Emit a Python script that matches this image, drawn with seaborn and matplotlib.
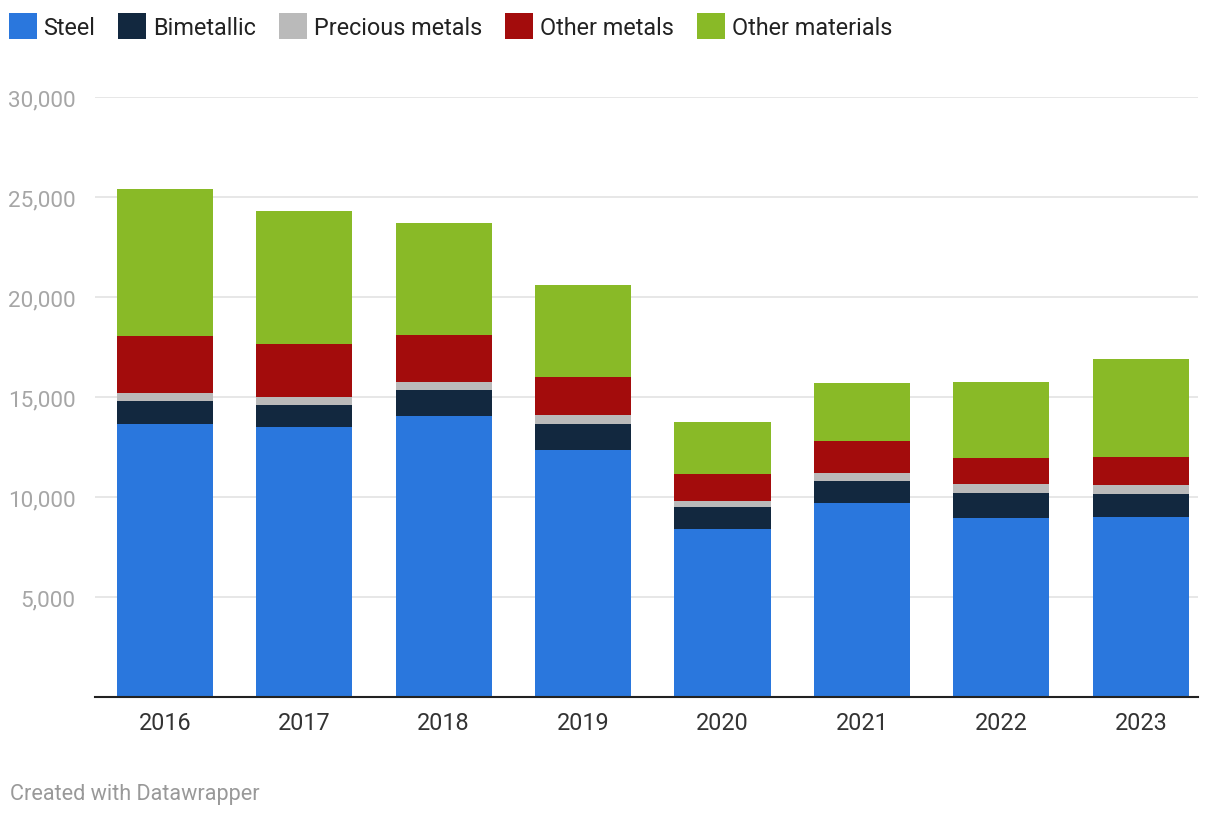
import numpy as np
import pandas as pd
import seaborn as sns
import matplotlib.pyplot as plt
from matplotlib.patches import Patch
from matplotlib.ticker import FuncFormatter

years = ["2016", "2017", "2018", "2019", "2020", "2021", "2022", "2023"]
steel = [13650, 13500, 14050, 12350, 8400, 9700, 8950, 9000]
bimetallic = [1150, 1100, 1300, 1300, 1100, 1100, 1250, 1150]
precious_metals = [400, 400, 400, 450, 300, 400, 450, 450]
other_metals = [2850, 2650, 2350, 1900, 1350, 1600, 1300, 1400]
other_materials = [7350, 6650, 5600, 4600, 2600, 2900, 3800, 4900]

series_names = ["Steel", "Bimetallic", "Precious metals", "Other metals", "Other materials"]
series_values = [steel, bimetallic, precious_metals, other_metals, other_materials]
colors = ["#2a77dd", "#12283f", "#bababa", "#a30c0c", "#89ba27"]
yticks = [5000, 10000, 15000, 20000, 25000, 30000]

sns.set_theme(style="white")
plt.rcParams['font.family'] = ['Roboto', 'DejaVu Sans']

fig = plt.figure(figsize=(12.2, 8.2), dpi=100)
ax = fig.add_axes([95/1220, (820-698)/820, (1198-95)/1220, 600/820])

cum = np.cumsum(np.array(series_values), axis=0)
for i in range(len(series_names) - 1, -1, -1):
    df = pd.DataFrame({"year": years, "value": cum[i]})
    sns.barplot(data=df, x="year", y="value", color=colors[i], width=0.69,
                saturation=1, ax=ax, zorder=3, linewidth=0)

ax.set_ylim(0, 30000)
ax.set_xlim(-0.5, 7.41)
ax.set_yticks(yticks)
ax.yaxis.set_major_formatter(FuncFormatter(lambda v, p: f"{int(v):,}"))
ax.grid(axis="y", color="#e3e3e3", linewidth=1.2, zorder=0)
ax.grid(axis="x", visible=False)
for s in ["top", "right", "left"]:
    ax.spines[s].set_visible(False)
ax.spines["bottom"].set_color("#222222")
ax.spines["bottom"].set_linewidth(1.5)
ax.spines["bottom"].set_zorder(5)
ax.set_xlabel("")
ax.set_ylabel("")
ax.tick_params(axis="y", length=0, labelsize=16.2, labelcolor="#a6a6a6", pad=14)
ax.tick_params(axis="x", length=0, labelsize=16.8, labelcolor="#333333", pad=10)

handles = [Patch(facecolor=c, edgecolor="none") for c in colors]
fig.legend(handles, series_names, loc="upper left", bbox_to_anchor=(-10/1220, 1.006),
           ncol=5, frameon=False, fontsize=16.8, handlelength=1.2, handleheight=1.35,
           handletextpad=0.28, columnspacing=1.0, borderaxespad=0.4, labelcolor="#222222")

fig.text(10/1220, 1 - 795/820, "Created with Datawrapper", fontsize=15.6, color="#999999",
         va="center", ha="left")

fig.savefig("out.png", dpi=100)
